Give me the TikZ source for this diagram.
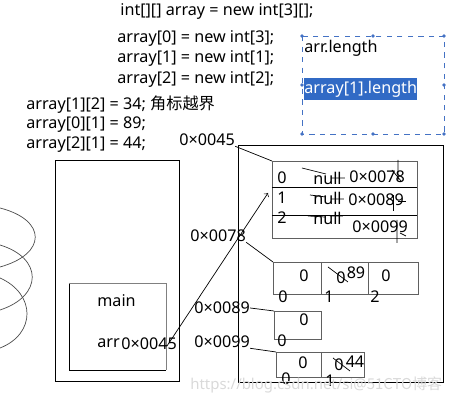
\documentclass[tikz,border=0pt]{standalone}
\usepackage{fontspec}
\setmainfont{Noto Sans}
\newfontfamily\cjk{Noto Sans CJK SC}
\usepackage{tikz}
\definecolor{selblue}{RGB}{49,106,197}
\definecolor{dashblue}{RGB}{68,114,196}

\begin{document}
\begin{tikzpicture}[x=0.02cm,y=-0.02cm,
    txt/.style={anchor=west, inner sep=0pt, font=\fontsize{9.2}{11}\selectfont},
    num/.style={inner sep=0pt, font=\fontsize{9.2}{11}\selectfont},
    cell/.style={draw=gray!75!black}]
  \useasboundingbox (0,0) rectangle (458,401);

  % code
  \node (decl) at (120,11) [txt] {int[][] array = new int[3][];};
  \foreach \i/\n/\y in {0/3/38,1/1/58,2/2/79}
           { \node (new\i) at (117,\y) [txt] {array[\i] = new int[\n];};}
  \node (set0) at (26,105) [txt] {array[1][2] = 34; {\cjk 角标越界}};
  \node (set1) at (26,125) [txt] {array[0][1] = 89;};
  \node (set2) at (26,145) [txt] {array[2][1] = 44;};

  % note
  \draw[dashed, dashblue, thin] (302,36) rectangle (444,134);
  \foreach \p in {(302,36),(373,36),(444,36),(302,85),(444,85),(302,134),(373,134),(444,134)}
           { \fill[dashblue] \p circle (1.1pt);}
  \node (alen) at (304,48) [txt] {arr.length};
  \node (a1len) at (304,89) [txt, fill=selblue, text=white, inner xsep=0pt, inner ysep=1.5pt] {array[1].length};

  % spring
  \draw[gray!60!black] (0,208) .. controls (47,220) and (47,254) .. (0,267);
  \draw[gray!60!black] (0,245) .. controls (43,258) and (43,296) .. (0,310);
  \draw[gray!60!black] (0,278) .. controls (36,294) and (36,334) .. (0,348);

  % stack
  \draw (55,160) rectangle (179,381);
  \draw (69,283) -- (69,370) -- (166,370);
  \draw[gray] (69,283) -- (166,283) -- (166,370);
  \node (main) at (97,301) [txt] {main};
  \node (arr) at (97,343) [txt] {arr};
  \node (sa45) at (121,344) [txt] {0×0045};
  \coordinate (ptr) at (167,346);

  % heap
  \draw (238,145) rectangle (443,382);
  \node (ha45) at (179,140) [txt] {0×0045};
  \node (ha78) at (190,236) [txt] {0×0078};
  \node (ha89) at (194,308) [txt] {0×0089};
  \node (ha99) at (194,342) [txt] {0×0099};

  % array
  \coordinate (tbl) at (272,161);
  \draw[cell] (tbl) rectangle (417,238);
  \draw (272,187) -- (417,187) (272,215) -- (417,215);
  \coordinate (row1) at (268,193);
  \foreach \i/\y in {0/178,1/198,2/218}
           { \node (r\i) at (277,\y) [txt] {\i};
             \node (n\i) at (313,\y) [txt] {null};}
  \foreach \i/\ad/\x/\y in {0/78/349/177,1/89/348/200,2/99/352/227}
           { \node (t\i) at (\x,\y) [txt] {0×00\ad};}
  \draw[thin] (302,168) -- (326,174) (331,178) -- (345,178);
  \draw[thin] (310,195) -- (326,197) (331,199) -- (344,199);
  \draw[thin] (308,216) -- (325,217) (330,216) -- (343,216);
  \draw[thin] (398,160) -- (398,180) (392,170) -- (401,181);
  \draw[thin] (393,195) -- (393,211) (398,201) -- (406,201);
  \draw[thin] (397,220) -- (397,243) (400,233) -- (406,236);

  % int[3]
  \coordinate (arr0) at (273,262);
  \draw[cell] (arr0) rectangle (418,294) (321,262) -- (321,294) (368,262) -- (368,294);
  \node (v00) at (304,276) [num] {0};
  \node (v01) at (341,278) [num] {0};
  \node (v01n) at (356,273) [num] {89};
  \node (v02) at (386,276) [num] {0};
  \draw[thin] (328,267) -- (348,282);
  \foreach \i/\x in {0/283,1/329,2/375}
           { \node (i0\i) at (\x,297) [num] {\i};}

  % int[1]
  \coordinate (arr1) at (274,311);
  \draw[cell] (arr1) rectangle (321,339);
  \node (v10) at (304,320) [num] {0};
  \node (i10) at (282,341) [num] {0};

  % int[2]
  \coordinate (arr2) at (276,352);
  \draw[cell] (arr2) rectangle (364,377) (321,352) -- (321,377);
  \node (v20) at (303,363) [num] {0};
  \node (v21) at (339,365) [num] {0};
  \node (v21n) at (355,362) [num] {44};
  \draw[thin] (333,358) -- (350,371);
  \node (i20) at (286,379) [num] {0};
  \node (i21) at (330,381) [num] {1};

  % references
  \draw[->, thin] (ptr) -- (row1);
  \draw[thin] (ha45.south east) -- (tbl);
  \draw[thin] (ha78.south east) -- (arr0);
  \draw[thin] (ha89.east) -- (arr1);
  \draw[thin] (ha99.south east) -- (arr2);

  \node (wm) at (190,385) [txt, text=gray!30, font=\fontsize{8.5}{10}\selectfont] {https://blog.csdn.net/si@{\cjk 51CTO博客}};
\end{tikzpicture}
\end{document}
